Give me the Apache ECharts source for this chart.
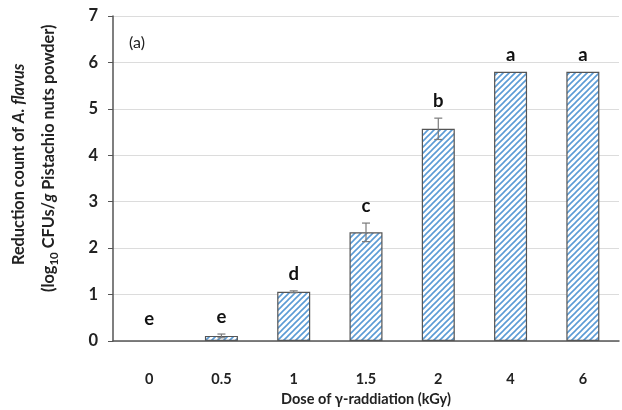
<!DOCTYPE html>
<html>
<head>
<meta charset="utf-8">
<script src="https://cdn.jsdelivr.net/npm/echarts@6/dist/echarts.min.js"></script>
<style>
  html, body { margin: 0; padding: 0; background: #fff; }
  #chart { width: 622px; height: 410px; }
</style>
</head>
<body>
<div id="chart"></div>
<script>
// dose categories (kGy)
var doses = ['0', '0.5', '1', '1.5', '2', '4', '6'];
// reduction of A. flavus, log10 CFU/g
var reduction = [0, 0.11, 1.06, 2.34, 4.57, 5.8, 5.8];
// standard deviation (error bars)
var errors = [0, 0.04, 0.02, 0.2, 0.23, 0, 0];
// significance letters
var letters = ['e', 'e', 'd', 'c', 'b', 'a', 'a'];
var yTicks = [0, 1, 2, 3, 4, 5, 6, 7];

var font = 'Lato, "Open Sans", sans-serif';

// hatch pattern "////"
function hatch() {
    var s = 6;
    var c = document.createElement('canvas');
    c.width = s; c.height = s;
    var ctx = c.getContext('2d');
    ctx.fillStyle = '#fff';
    ctx.fillRect(0, 0, s, s);
    ctx.strokeStyle = '#5b9bd5';
    ctx.lineWidth = 1.6;
    ctx.beginPath();
    ctx.moveTo(-1, s + 1); ctx.lineTo(s + 1, -1);
    ctx.moveTo(-1, 1); ctx.lineTo(1, -1);
    ctx.moveTo(s - 1, s + 1); ctx.lineTo(s + 1, s - 1);
    ctx.stroke();
    return c;
}

var barData = reduction.map(function (v) {
    return v > 0 ? v : '-';
});
var errData = reduction.map(function (v, i) {
    return [i, v, errors[i], letters[i]];
});

var chart = echarts.init(document.getElementById('chart'));

var option = {
    animation: false,
    textStyle: { fontFamily: font },
    grid: { left: 113, right: 3, top: 16, bottom: 69, outerBoundsMode: 'none' },
    xAxis: {
        type: 'category',
        data: doses,
        name: 'Dose of \u03b3-raddiation (kGy)',
        nameLocation: 'middle',
        nameGap: 50,
        nameTextStyle: { fontSize: 14.5, fontWeight: 'bold', color: '#222', fontFamily: font },
        axisLine: { lineStyle: { color: '#555', width: 1.5 } },
        axisTick: { show: false },
        axisLabel: { margin: 31, fontSize: 14.5, fontWeight: 'bold', color: '#222', fontFamily: font }
    },
    yAxis: {
        type: 'value',
        min: yTicks[0],
        max: yTicks[yTicks.length - 1],
        interval: 1,
        axisLine: { show: true, lineStyle: { color: '#555', width: 1.5 } },
        axisTick: { show: true, length: 5, lineStyle: { color: '#555' } },
        axisLabel: { margin: 15, fontSize: 16.5, fontWeight: 'bold', color: '#222', fontFamily: font },
        splitLine: { lineStyle: { color: '#dcdcdc', width: 1.2 } }
    },
    graphic: [{
        type: 'text',
        left: 129, top: 35,
        style: { text: '(a)', fontSize: 16, fill: '#222', fontFamily: font }
    }, {
        type: 'text',
        x: 11, y: 265,
        rotation: Math.PI / 2,
        style: {
            text: '{b|Reduction count of }{bi|A. flavus}',
            rich: {
                b: { fontSize: 16.3, fontWeight: 'bold', fill: '#222', fontFamily: font },
                bi: { fontSize: 16.3, fontWeight: 'bold', fontStyle: 'italic', fill: '#222', fontFamily: font }
            }
        }
    }, {
        type: 'text',
        x: 41, y: 292,
        rotation: Math.PI / 2,
        style: {
            text: '{s|(log}{sub|10}{s| CFUs/}{si|g}{s| Pistachio nuts powder)}',
            rich: {
                s: { fontSize: 16.3, fontWeight: 'bold', fill: '#222', fontFamily: font, verticalAlign: 'bottom' },
                si: { fontSize: 16.3, fontWeight: 'bold', fontStyle: 'italic', fill: '#222', fontFamily: font, verticalAlign: 'bottom' },
                sub: { fontSize: 11.5, fontWeight: 'bold', fill: '#222', fontFamily: font, verticalAlign: 'bottom', padding: [0, 0, -3, 0] }
            }
        }
    }],
    series: [{
        type: 'bar',
        data: barData,
        barWidth: 33,
        itemStyle: {
            color: { image: hatch(), repeat: 'repeat' },
            borderColor: '#555',
            borderWidth: 1.2
        }
    }, {
        type: 'custom',
        data: errData,
        z: 5,
        renderItem: function (params, api) {
            var i = api.value(0);
            var v = api.value(1);
            var e = api.value(2);
            var top = api.coord([i, v + e]);
            var bot = api.coord([i, v - e]);
            var children = [];
            var cap = 4;
            if (e > 0) {
                var st = { stroke: '#7a7a7a', lineWidth: 1.2 };
                children.push({ type: 'line', shape: { x1: top[0], y1: top[1], x2: bot[0], y2: bot[1] }, style: st });
                children.push({ type: 'line', shape: { x1: top[0] - cap, y1: top[1], x2: top[0] + cap, y2: top[1] }, style: st });
                children.push({ type: 'line', shape: { x1: bot[0] - cap, y1: bot[1], x2: bot[0] + cap, y2: bot[1] }, style: st });
            }
            children.push({
                type: 'text',
                x: top[0],
                y: top[1] - (v > 0 ? 17 : 22),
                style: {
                    text: letters[params.dataIndex],
                    align: 'center',
                    verticalAlign: 'middle',
                    fontSize: 18.5,
                    fontWeight: 'bold',
                    fill: '#111',
                    fontFamily: font
                }
            });
            return { type: 'group', children: children };
        }
    }]
};

chart.setOption(option);
</script>
</body>
</html>
